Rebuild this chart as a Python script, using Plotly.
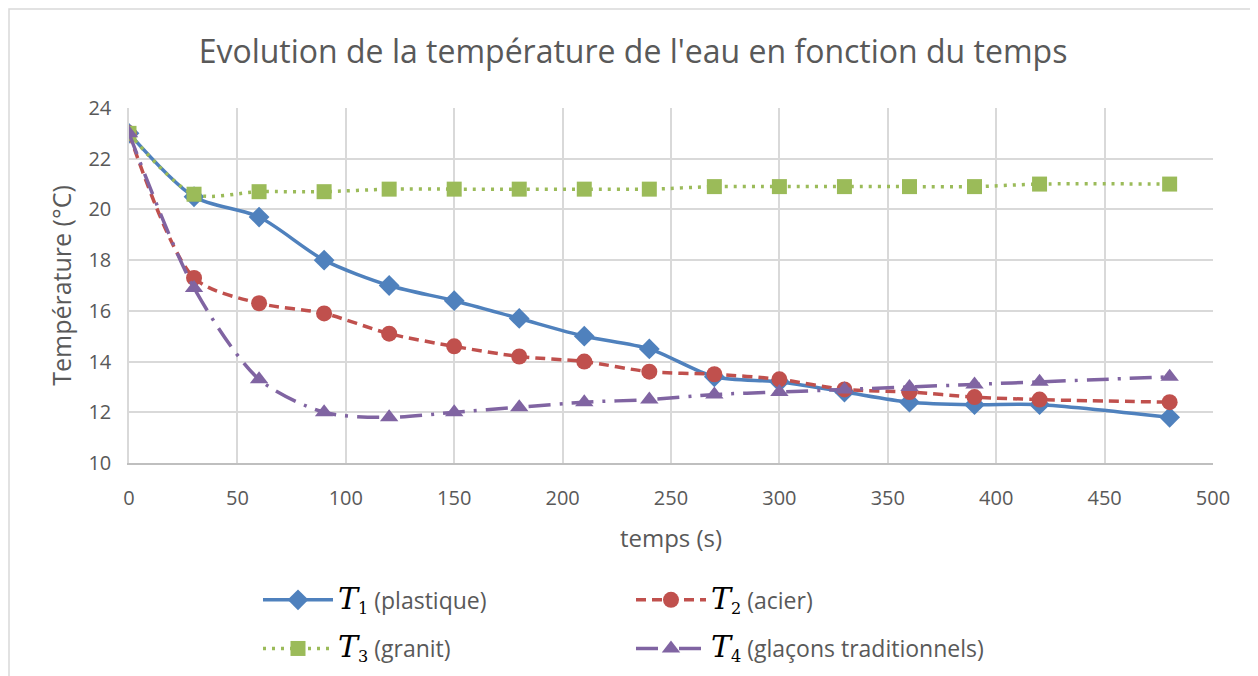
import plotly.graph_objects as go

temps = [0, 30, 60, 90, 120, 150, 180, 210, 240, 270, 300, 330, 360, 390, 420, 480]
T1 = [23.0, 20.5, 19.7, 18.0, 17.0, 16.4, 15.7, 15.0, 14.5, 13.4, 13.2, 12.8, 12.4, 12.3, 12.3, 11.8]
T2 = [23.0, 17.3, 16.3, 15.9, 15.1, 14.6, 14.2, 14.0, 13.6, 13.5, 13.3, 12.9, 12.8, 12.6, 12.5, 12.4]
T3 = [23.0, 20.6, 20.7, 20.7, 20.8, 20.8, 20.8, 20.8, 20.8, 20.9, 20.9, 20.9, 20.9, 20.9, 21.0, 21.0]
T4 = [23.0, 16.9, 13.3, 12.0, 11.8, 12.0, 12.2, 12.4, 12.5, 12.7, 12.8, 12.9, 13.0, 13.1, 13.2, 13.4]

TSPAN = "<span style=\"font-family:'DejaVu Serif';font-size:30px;fill:#000000\"><i>T</i></span>"
SUB = "<span style=\"font-family:'DejaVu Serif';fill:#000000\"><sub>{}</sub></span>"
names = [
    TSPAN + SUB.format(1) + " (plastique)",
    TSPAN + SUB.format(2) + " (acier)",
    TSPAN + SUB.format(3) + " (granit)",
    TSPAN + SUB.format(4) + " (glaçons traditionnels)",
]
colors = ["#4f81bd", "#c0504d", "#9bbb59", "#8064a2"]
dashes = ["solid", "10px,6px", "3px,6px", "22px,9px,3px,9px"]
symbols = ["diamond", "circle", "square", "triangle-up"]
sizes = [16, 16, 15, 16]
widths = [3.5, 3.5, 3.5, 3.5]
legends = ["legend", "legend", "legend2", "legend2"]

fig = go.Figure()
for y, n, c, d, s, sz, w, lg in zip([T1, T2, T3, T4], names, colors, dashes, symbols, sizes, widths, legends):
    fig.add_trace(go.Scatter(
        x=temps, y=y, name=n, mode="lines+markers",
        line=dict(color=c, width=w, dash=d, shape="spline", smoothing=0.8),
        marker=dict(symbol=s, size=sz, color=c),
        legend=lg,
    ))

fnt = "Open Sans, sans-serif"
grey = "#595959"
leg_common = dict(orientation="h", xanchor="left", yanchor="top",
                  entrywidth=288, entrywidthmode="pixels", itemwidth=70,
                  font=dict(size=23, color=grey, family=fnt), bgcolor="rgba(0,0,0,0)")
fig.update_layout(
    width=1250, height=690,
    margin=dict(l=121, r=45, t=100, b=235),
    paper_bgcolor="white", plot_bgcolor="white",
    font=dict(family=fnt, color=grey, size=19),
    title=dict(text="Evolution de la température de l'eau en fonction du temps",
               x=0.5, xanchor="center", y=1 - 44 / 690, yanchor="middle",
               font=dict(size=32, color=grey, family=fnt)),
    xaxis=dict(range=[0, 500], dtick=50, showgrid=True, gridcolor="#d9d9d9", gridwidth=1.5,
               showline=True, linecolor="#bfbfbf", linewidth=1.5, zeroline=False,
               ticks="", ticklabelstandoff=16, tickfont=dict(size=20, color=grey),
               title=dict(text="temps (s)", font=dict(size=24, color=grey), standoff=20)),
    yaxis=dict(range=[10, 24], dtick=2, showgrid=True, gridcolor="#d9d9d9", gridwidth=1.5,
               showline=True, linecolor="#d9d9d9", linewidth=1.5, zeroline=False,
               ticks="", ticklabelstandoff=12, tickfont=dict(size=20, color=grey),
               title=dict(text="Température (°C)", font=dict(size=25, color=grey), standoff=10)),
    legend=dict(x=0.119, y=-0.325, **leg_common),
    legend2=dict(x=0.119, y=-0.462, **leg_common),
    shapes=[dict(type="rect", xref="paper", yref="paper",
                 x0=-0.1107, x1=1.5, y0=-1.5, y1=1.279,
                 line=dict(color="#d9d9d9", width=1.5), fillcolor="rgba(0,0,0,0)", layer="below")],
)

fig.write_html("out.html")
